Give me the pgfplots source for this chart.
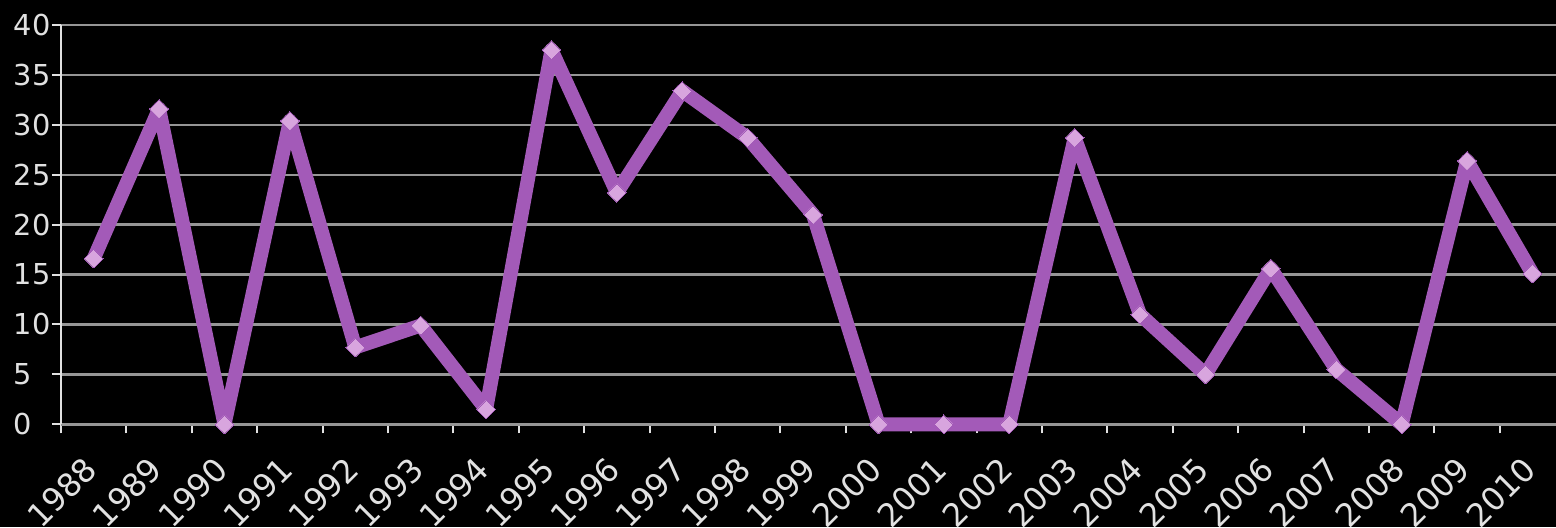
\documentclass[border=0pt]{standalone}
\usepackage{pgfplots}
\pgfplotsset{compat=1.18}
\usepackage{fontspec}
\setmainfont{DejaVu Sans}

\definecolor{linepurple}{RGB}{163,90,184}
\definecolor{markpurple}{RGB}{216,165,222}
\definecolor{gridgray}{RGB}{150,150,150}
\definecolor{labelgray}{RGB}{225,225,225}

\begin{document}
\fontsize{14.4}{17}\selectfont
\begin{tikzpicture}
\fill[black, use as bounding box] (-30.5pt,-51.35pt) rectangle (747.5pt,212.15pt);
\begin{axis}[
    at={(0pt,0pt)}, anchor=south west,
    scale only axis,
    width=747.5pt, height=199.65pt,
    xmin=-0.5, xmax=22.36,
    ymin=0, ymax=40,
    ytick={0,5,...,40},
    xtick={0,...,22},
    xticklabels={1988,1989,1990,1991,1992,1993,1994,1995,1996,1997,1998,1999,2000,2001,2002,2003,2004,2005,2006,2007,2008,2009,2010},
    minor xtick={-0.5,0.5,...,21.5},
    major x tick style={draw=none},
    minor x tick style={labelgray, line width=1pt},
    axis x line*=bottom,
    axis y line*=left,
    x axis line style={gridgray, line width=1.2pt, -},
    y axis line style={labelgray, line width=1pt, -},
    tick align=outside,
    major tick length=4.5pt,
    minor tick length=4.5pt,
    ytick style={labelgray, line width=1pt},
    ymajorgrids,
    grid style={gridgray, line width=1.2pt},
    /pgf/number format/assume math mode=true,
    ticklabel style={text=labelgray, font=\fontsize{14.4}{17}\selectfont},
    yticklabel style={anchor=west, xshift=-24pt},
    xticklabel style={xshift=2pt, yshift=-11.5pt, rotate=45, anchor=east,
        font=\fontsize{16}{19}\selectfont},
    clip=false,
]
\addplot[color=linepurple, line width=7pt, line join=round,
    mark=square*, mark size=3.3pt,
    mark options={rotate=45, fill=markpurple, draw=none, line width=0pt}]
    coordinates {
    (0,16.6) (1,31.6) (2,0) (3,30.4) (4,7.7) (5,9.9) (6,1.5) (7,37.5)
    (8,23.2) (9,33.4) (10,28.7) (11,21.0) (12,0) (13,0) (14,0) (15,28.7)
    (16,11.0) (17,5.0) (18,15.6) (19,5.5) (20,0) (21,26.4) (22,15.1)
    };
\end{axis}
\end{tikzpicture}
\end{document}
